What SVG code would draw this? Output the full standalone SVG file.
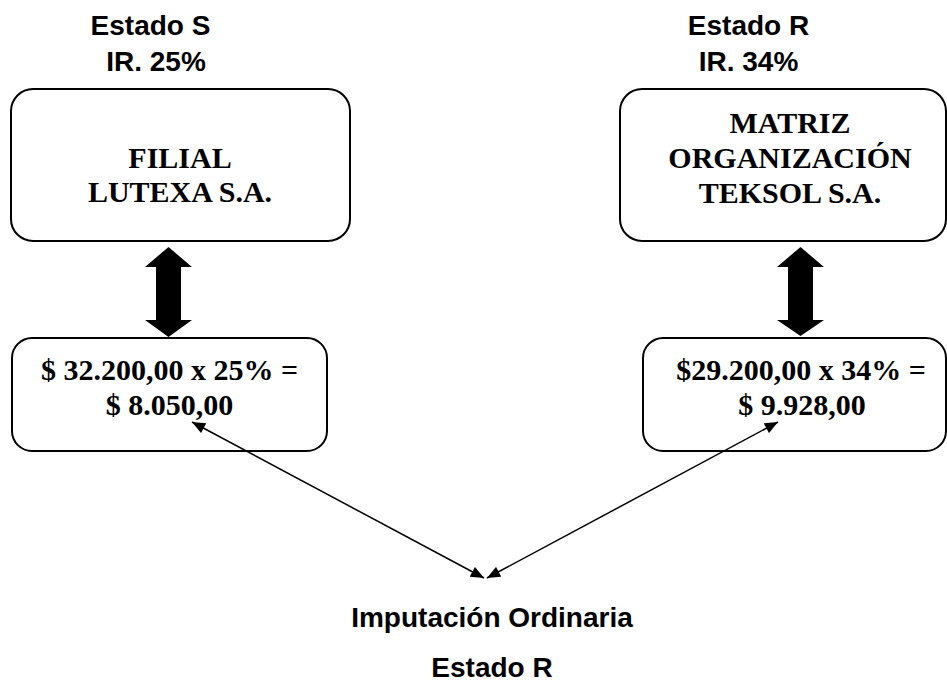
<svg xmlns="http://www.w3.org/2000/svg" width="947" height="684" viewBox="0 0 947 684">
<style>
.box{fill:#fff;stroke:#000;stroke-width:2}
.serif{font-family:"Liberation Serif","Times New Roman",serif;font-weight:bold;font-size:30px;fill:#000;text-anchor:middle}
.sans{font-family:"Liberation Sans",Arial,sans-serif;font-weight:bold;font-size:28px;fill:#000;text-anchor:middle}
.thin{stroke:#000;stroke-width:1.5;fill:none;marker-start:url(#ah);marker-end:url(#ah)}
.block{fill:#000}
</style>
<defs>
<marker id="ah" viewBox="0 0 12 10" refX="12" refY="5" markerWidth="14" markerHeight="11" markerUnits="userSpaceOnUse" orient="auto-start-reverse">
<path d="M0,0 L12,5 L0,10 Z" fill="#000"/>
</marker>
</defs>
<rect width="947" height="684" fill="#fff"/>
<g id="labels">
<text class="sans" x="150.5" y="35">Estado S</text>
<text class="sans" x="156" y="71">IR. 25%</text>
<text class="sans" x="748.5" y="35">Estado R</text>
<text class="sans" x="748.5" y="71">IR. 34%</text>
<text class="sans" x="492" y="627">Imputación Ordinaria</text>
<text class="sans" x="492" y="677">Estado R</text>
</g>
<g id="filial">
<rect class="box" x="11" y="89" width="339" height="152" rx="22" ry="22"/>
<text class="serif" x="180" y="168">FILIAL</text>
<text class="serif" x="180" y="202">LUTEXA S.A.</text>
</g>
<g id="matriz">
<rect class="box" x="620" y="89" width="326" height="152" rx="22" ry="22"/>
<text class="serif" x="790" y="133">MATRIZ</text>
<text class="serif" x="790" y="168">ORGANIZACIÓN</text>
<text class="serif" x="790" y="203">TEKSOL S.A.</text>
</g>
<g id="calc-s">
<rect class="box" x="12" y="338" width="315" height="113" rx="20" ry="20"/>
<text class="serif" x="169.5" y="380">$ 32.200,00 x 25% =</text>
<text class="serif" x="169.5" y="415">$ 8.050,00</text>
</g>
<g id="calc-r">
<rect class="box" x="643" y="338" width="303" height="113" rx="20" ry="20"/>
<text class="serif" x="801" y="380">$29.200,00 x 34% =</text>
<text class="serif" x="802" y="415">$ 9.928,00</text>
</g>
<g id="connectors">
<path class="block" d="M168.5,247 L192,267 L181,267 L181,320 L192,320 L168.5,337 L145,320 L156,320 L156,267 L145,267 Z"/>
<path class="block" d="M800.5,247 L824,267 L813,267 L813,320 L824,320 L800.5,336 L777,320 L788,320 L788,267 L777,267 Z"/>
<line class="thin" x1="192" y1="422" x2="484" y2="578"/>
<line class="thin" x1="778" y1="422" x2="487" y2="578"/>
</g>
</svg>
